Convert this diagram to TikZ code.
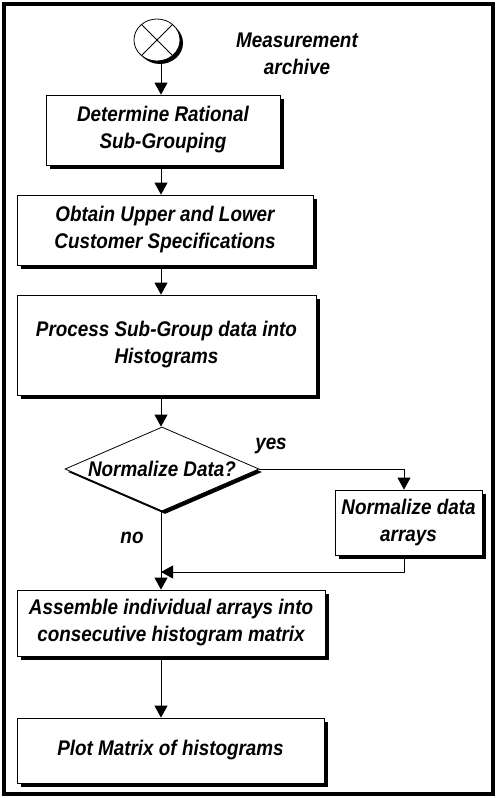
\documentclass[tikz,border=0pt]{standalone}
\usepackage{fontspec}
\setmainfont{Liberation Sans}[FakeStretch=0.89]
\usetikzlibrary{arrows.meta,shapes.geometric,shadows}
\begin{document}
\begin{tikzpicture}[x=1pt,y=-1pt,
  txt/.style={font=\fontsize{21.2}{27}\selectfont\bfseries\itshape, align=center},
  shad/.style={drop shadow={shadow xshift=4pt, shadow yshift=-4pt, fill=black, opacity=1}},
  box/.style={txt, draw=black, line width=0.8pt, fill=white, shad, inner sep=0pt},
  arr/.style={line width=0.8pt, -{Triangle[width=13pt,length=12pt]}},
  ln/.style={line width=0.8pt}
]
\useasboundingbox (0,0) rectangle (497,798);
\fill[white] (0,0) rectangle (497,798);
\draw[line width=4pt] (4,4) rectangle (493,794);

\coordinate (col) at (161,0);
\coordinate (c4) at (404,0);
\coordinate (m) at (161,572);

\node[ellipse, draw=black, line width=0.8pt, fill=white,
  drop shadow={shadow xshift=3pt, shadow yshift=-3pt, fill=black, opacity=1},
  minimum width=46pt, minimum height=42pt, inner sep=0pt] (circ) at (157,40) {};
\draw[ln] (circ.45) -- (circ.225);
\draw[ln] (circ.135) -- (circ.315);
\node[txt] (arch) at (297,54) {Measurement\\archive};

\node[box, minimum width=234pt, minimum height=70pt] (b1) at (163,130) {Determine Rational\\Sub-Grouping};
\node[box, minimum width=296pt, minimum height=70pt] (b2) at (165,230) {Obtain Upper and Lower\\Customer Specifications};
\node[box, minimum width=299pt, minimum height=100pt] (b3) at (166.5,345) {Process Sub-Group data into\\Histograms};
\node[txt, diamond, aspect=2.3, draw=black, line width=0.8pt, fill=white,
  drop shadow={shadow xshift=3pt, shadow yshift=-3pt, fill=black, opacity=1},
  minimum width=194pt, minimum height=84pt, inner sep=0pt] (dia) at (162,469) {Normalize Data?};
\node[box, minimum width=147pt, minimum height=65pt] (b4) at (408.5,522.5) {Normalize data\\arrays};
\node[box, minimum width=308pt, minimum height=66pt] (b5) at (171,623) {Assemble individual arrays into\\consecutive histogram matrix};
\node[box, minimum width=307pt, minimum height=65pt] (b6) at (170.5,750.5) {Plot Matrix of histograms};

\node[txt] (yes) at (271,446) {yes};
\node[txt] (no) at (132,538) {no};

\draw[arr] (circ.south -| col) -- (b1.north -| col);
\draw[arr] (b1.south -| col) -- (b2.north -| col);
\draw[arr] (b2.south -| col) -- (b3.north -| col);
\draw[arr] (b3.south -| col) -- (dia.north -| col);
\draw[arr] (dia.east) -| (b4.north -| c4);
\draw[arr] (b4.south -| c4) |- (m);
\draw[arr] (dia.south -| col) -- (b5.north -| col);
\draw[arr] (b5.south -| col) -- (b6.north -| col);
\end{tikzpicture}
\end{document}
